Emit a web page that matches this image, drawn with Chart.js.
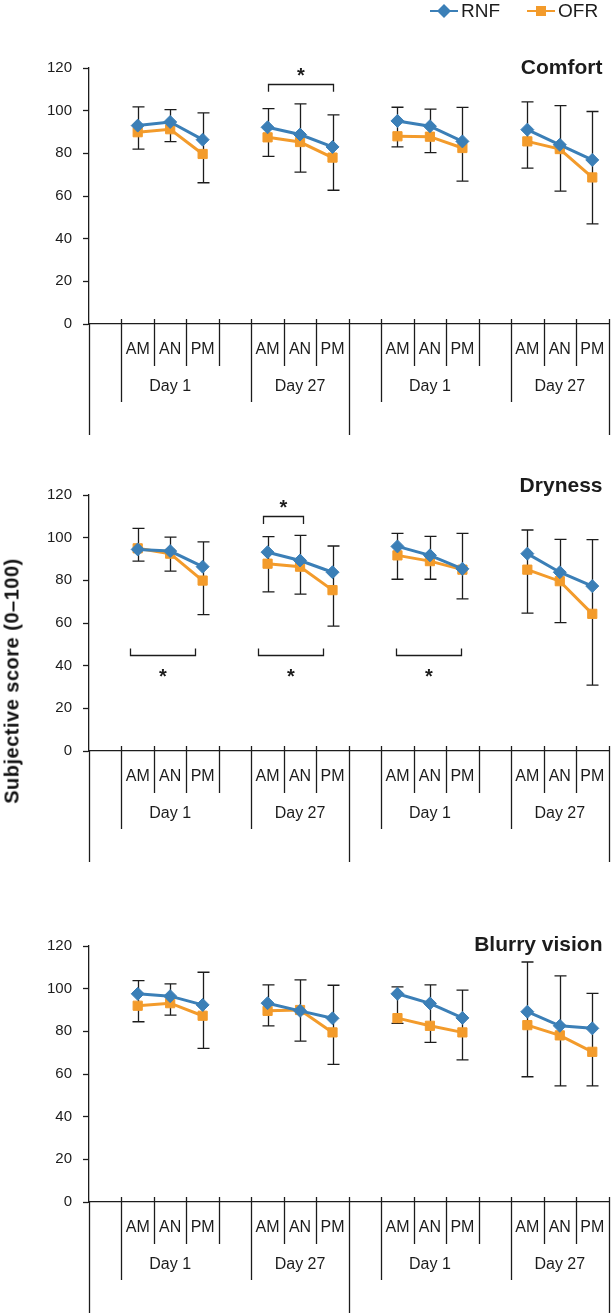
<!DOCTYPE html>
<html>
<head>
<meta charset="utf-8">
<script src="https://cdn.jsdelivr.net/npm/chart.js@4.4.0/dist/chart.umd.min.js"></script>
<style>
    html, body { margin: 0; padding: 0; background: #fff; }
    #page { position: relative; width: 616px; height: 1313px; overflow: hidden; }
    #page canvas { position: absolute; left: 0; }
    #yTitle {
        position: absolute;
        left: 12px;
        top: 681px;
        transform: translate(-50%, -50%) rotate(-90deg);
        font: bold 20px "Liberation Sans", Arial, sans-serif;
        letter-spacing: 0.5px;
        white-space: nowrap;
        color: #111;
    }
</style>
</head>
<body>
<div id="page">
    <canvas id="comfortChart" width="616" height="440" style="top:0"></canvas>
    <canvas id="drynessChart" width="616" height="430" style="top:440px"></canvas>
    <canvas id="blurryChart" width="616" height="443" style="top:870px"></canvas>
    <div id="yTitle">Subjective score (0–100)</div>
</div>

<script>
// ==========================================
// DATA
// ==========================================

// 16 slots on the x axis: an empty slot before every group of three
const slotLabels = ['', 'AM', 'AN', 'PM', '', 'AM', 'AN', 'PM', '', 'AM', 'AN', 'PM', '', 'AM', 'AN', 'PM'];
const dayLabels = ['Day 1', 'Day 27', 'Day 1', 'Day 27'];
const yTickValues = [0, 20, 40, 60, 80, 100, 120];
const seriesNames = ['RNF', 'OFR'];

// Comfort
const comfortRnf      = [null, 93.0, 94.7, 86.4, null, 92.2, 88.8, 83.0, null, 95.2, 92.7, 85.6, null, 91.1, 84.0, 76.9];
const comfortOfr      = [null, 89.9, 91.3, 79.7, null, 87.5, 85.3, 78.0, null, 88.0, 87.8, 82.5, null, 85.6, 82.0, 68.7];
const comfortRnfUpper = [null, 101.8, 100.5, 99.0, null, 101.0, 103.2, 98.0, null, 101.6, 100.7, 101.5, null, 104.1, 102.4, 99.6];
const comfortOfrLower = [null, 82.0, 85.5, 66.2, null, 78.6, 71.2, 62.7, null, 83.0, 80.3, 67.0, null, 73.1, 62.3, 46.9];

// Dryness
const drynessRnf      = [null, 94.5, 93.7, 86.4, null, 93.2, 89.3, 83.8, null, 95.9, 91.7, 85.4, null, 92.5, 83.8, 77.3];
const drynessOfr      = [null, 95.0, 92.5, 79.9, null, 87.8, 86.4, 75.4, null, 91.7, 89.0, 85.0, null, 85.0, 79.6, 64.3];
const drynessRnfUpper = [null, 104.4, 100.3, 98.0, null, 100.5, 101.1, 96.1, null, 102.0, 100.6, 102.0, null, 103.6, 99.2, 99.1];
const drynessOfrLower = [null, 89.0, 84.3, 63.9, null, 74.6, 73.5, 58.5, null, 80.5, 80.5, 71.3, null, 64.6, 60.2, 30.9];

// Blurry vision
const blurryRnf      = [null, 97.6, 96.5, 92.4, null, 93.2, 89.6, 86.1, null, 97.6, 93.1, 86.3, null, 89.2, 82.6, 81.4];
const blurryOfr      = [null, 92.0, 93.2, 87.3, null, 89.6, 90.0, 79.5, null, 86.2, 82.6, 79.5, null, 82.9, 78.1, 70.4];
const blurryRnfUpper = [null, 103.8, 102.2, 107.7, null, 101.8, 104.1, 101.6, null, 100.8, 101.8, 99.3, null, 112.5, 106.0, 97.8];
const blurryOfrLower = [null, 84.5, 87.6, 72.0, null, 82.6, 75.4, 64.5, null, 83.7, 74.8, 66.6, null, 58.7, 54.4, 54.4];

// significance brackets (slot index range, bracket level, leg tip, star level)
const comfortMarks = [
    { from: 5, to: 7, level: 112.4, tip: 108.9, star: 119.1 }
];
const drynessMarks = [
    { from: 4.85, to: 6.1, level: 110.0, tip: 106.4, star: 116.6 },
    { from: 0.75, to: 2.77, level: 44.9, tip: 48.1, star: 37.2 },
    { from: 4.72, to: 6.72, level: 44.9, tip: 48.1, star: 37.2 },
    { from: 8.95, to: 10.96, level: 44.9, tip: 48.1, star: 37.2 }
];
const blurryMarks = [];

// ==========================================
// STYLE
// ==========================================

const FONT = '"Liberation Sans", Arial, sans-serif';
const INK = '#1c1c1c';
const RNF_COLOR = '#3b7fb7';
const OFR_COLOR = '#f39b2b';

Chart.defaults.font.family = FONT;
Chart.defaults.color = INK;

// ==========================================
// DECORATION PLUGIN (error bars, separators, labels, brackets)
// ==========================================

const panelDecor = {
    id: 'panelDecor',
    beforeDatasetsDraw(chart, args, opts) {
        const { ctx, scales: { x, y } } = chart;
        ctx.save();
        ctx.strokeStyle = INK;
        ctx.lineWidth = 1.3;
        opts.upper.forEach((hi, i) => {
            if (hi == null) return;
            const px = Math.round(x.getPixelForValue(i)) + 0.5;
            const top = y.getPixelForValue(hi);
            const bot = y.getPixelForValue(opts.lower[i]);
            ctx.beginPath();
            ctx.moveTo(px, top);
            ctx.lineTo(px, bot);
            ctx.moveTo(px - 6, top);
            ctx.lineTo(px + 6, top);
            ctx.moveTo(px - 6, bot);
            ctx.lineTo(px + 6, bot);
            ctx.stroke();
        });
        ctx.restore();
    },
    afterDraw(chart, args, opts) {
        const { ctx, chartArea: area, scales: { x, y } } = chart;
        ctx.save();
        ctx.strokeStyle = INK;
        ctx.fillStyle = INK;
        ctx.lineWidth = 1.3;

        // category separators below the axis
        for (let b = 0; b <= slotLabels.length; b++) {
            const px = Math.round(x.getPixelForValue(b - 0.5)) + 0.5;
            let len = 42;
            if (b % 8 === 0) len = 111;
            else if (b % 4 === 1) len = 78;
            ctx.beginPath();
            ctx.moveTo(px, b === 0 ? area.bottom : area.bottom - 5);
            ctx.lineTo(px, area.bottom + len);
            ctx.stroke();
        }

        // day labels under each group
        ctx.font = '16px ' + FONT;
        ctx.textAlign = 'center';
        ctx.textBaseline = 'middle';
        dayLabels.forEach((lbl, g) => {
            ctx.fillText(lbl, x.getPixelForValue(g * 4 + 2), area.bottom + 63);
        });

        // panel title
        ctx.font = 'bold 21px ' + FONT;
        ctx.textAlign = 'right';
        ctx.textBaseline = 'alphabetic';
        ctx.fillText(opts.title, area.right - 6, area.top + opts.titleDy);

        // significance brackets
        opts.marks.forEach(m => {
            const x1 = Math.round(x.getPixelForValue(m.from)) + 0.5;
            const x2 = Math.round(x.getPixelForValue(m.to)) + 0.5;
            const yl = Math.round(y.getPixelForValue(m.level)) + 0.5;
            const yt = y.getPixelForValue(m.tip);
            ctx.beginPath();
            ctx.moveTo(x1, yt);
            ctx.lineTo(x1, yl);
            ctx.lineTo(x2, yl);
            ctx.lineTo(x2, yt);
            ctx.stroke();
            ctx.font = 'bold 20px ' + FONT;
            ctx.textAlign = 'center';
            ctx.fillText('*', (x1 + x2) / 2, y.getPixelForValue(m.star) + 20 * 0.58);
        });

        // legend (first panel only)
        if (opts.legend) {
            const starts = [430, 527];
            const cy = 11;
            chart.data.datasets.forEach((ds, i) => {
                const x0 = starts[i];
                ctx.strokeStyle = ds.borderColor;
                ctx.fillStyle = ds.borderColor;
                ctx.lineWidth = 2;
                ctx.beginPath();
                ctx.moveTo(x0, cy);
                ctx.lineTo(x0 + 28, cy);
                ctx.stroke();
                const mx = x0 + 14;
                ctx.beginPath();
                if (ds.pointStyle === 'rectRot') {
                    ctx.moveTo(mx - 7, cy);
                    ctx.lineTo(mx, cy - 7);
                    ctx.lineTo(mx + 7, cy);
                    ctx.lineTo(mx, cy + 7);
                    ctx.closePath();
                } else {
                    ctx.rect(mx - 5, cy - 5, 10, 10);
                }
                ctx.fill();
                ctx.fillStyle = INK;
                ctx.font = '19px ' + FONT;
                ctx.textAlign = 'left';
                ctx.textBaseline = 'middle';
                ctx.fillText(ds.label, x0 + 31, cy + 1);
            });
        }
        ctx.restore();
    }
};

// ==========================================
// CHART FACTORY
// ==========================================

const makePanel = (canvasId, panel) => {
    const canvas = document.getElementById(canvasId);
    const xAxisHeight = canvas.height - panel.plotBottom;
    return new Chart(canvas.getContext('2d'), {
        type: 'line',
        data: {
            labels: slotLabels,
            datasets: [{
                label: seriesNames[0],
                data: panel.rnf,
                borderColor: RNF_COLOR,
                backgroundColor: RNF_COLOR,
                borderWidth: 3,
                pointStyle: 'rectRot',
                pointRadius: 6.5,
                pointBorderWidth: 1,
                spanGaps: false,
                tension: 0
            }, {
                label: seriesNames[1],
                data: panel.ofr,
                borderColor: OFR_COLOR,
                backgroundColor: OFR_COLOR,
                borderWidth: 3,
                pointStyle: 'rect',
                pointRadius: 6.5,
                pointBorderWidth: 1,
                spanGaps: false,
                tension: 0
            }]
        },
        options: {
            responsive: false,
            animation: false,
            layout: {
                padding: { top: panel.plotTop, right: 1, left: 0, bottom: 0 }
            },
            plugins: {
                legend: { display: false },
                tooltip: { enabled: false },
                panelDecor: {
                    title: panel.title,
                    titleDy: panel.titleDy,
                    upper: panel.upper,
                    lower: panel.lower,
                    marks: panel.marks,
                    legend: !!panel.legend
                }
            },
            scales: {
                x: {
                    type: 'category',
                    offset: true,
                    grid: { display: false, drawTicks: false },
                    border: { display: true, color: INK, width: 1.3 },
                    ticks: {
                        autoSkip: false,
                        maxRotation: 0,
                        padding: 16,
                        color: INK,
                        font: { size: 16 }
                    },
                    afterFit: (s) => {
                        s.height = xAxisHeight;
                        s.paddingLeft = 0;
                        s.paddingRight = 0;
                    }
                },
                y: {
                    min: yTickValues[0],
                    max: yTickValues[yTickValues.length - 1],
                    grid: {
                        drawOnChartArea: false,
                        drawTicks: true,
                        tickLength: 6,
                        tickColor: INK,
                        tickWidth: 1.3
                    },
                    border: { display: true, color: INK, width: 1.3 },
                    ticks: {
                        stepSize: yTickValues[1] - yTickValues[0],
                        padding: 11,
                        color: INK,
                        font: { size: 15 }
                    },
                    afterFit: (s) => {
                        s.width = 89;
                    }
                }
            }
        },
        plugins: [panelDecor]
    });
};

makePanel('comfortChart', {
    title: 'Comfort', titleDy: 6, legend: true,
    plotTop: 68, plotBottom: 324,
    rnf: comfortRnf, ofr: comfortOfr, upper: comfortRnfUpper, lower: comfortOfrLower, marks: comfortMarks
});

makePanel('drynessChart', {
    title: 'Dryness', titleDy: -3,
    plotTop: 55, plotBottom: 311,
    rnf: drynessRnf, ofr: drynessOfr, upper: drynessRnfUpper, lower: drynessOfrLower, marks: drynessMarks
});

makePanel('blurryChart', {
    title: 'Blurry vision', titleDy: 5,
    plotTop: 76, plotBottom: 332,
    rnf: blurryRnf, ofr: blurryOfr, upper: blurryRnfUpper, lower: blurryOfrLower, marks: blurryMarks
});
</script>
</body>
</html>
